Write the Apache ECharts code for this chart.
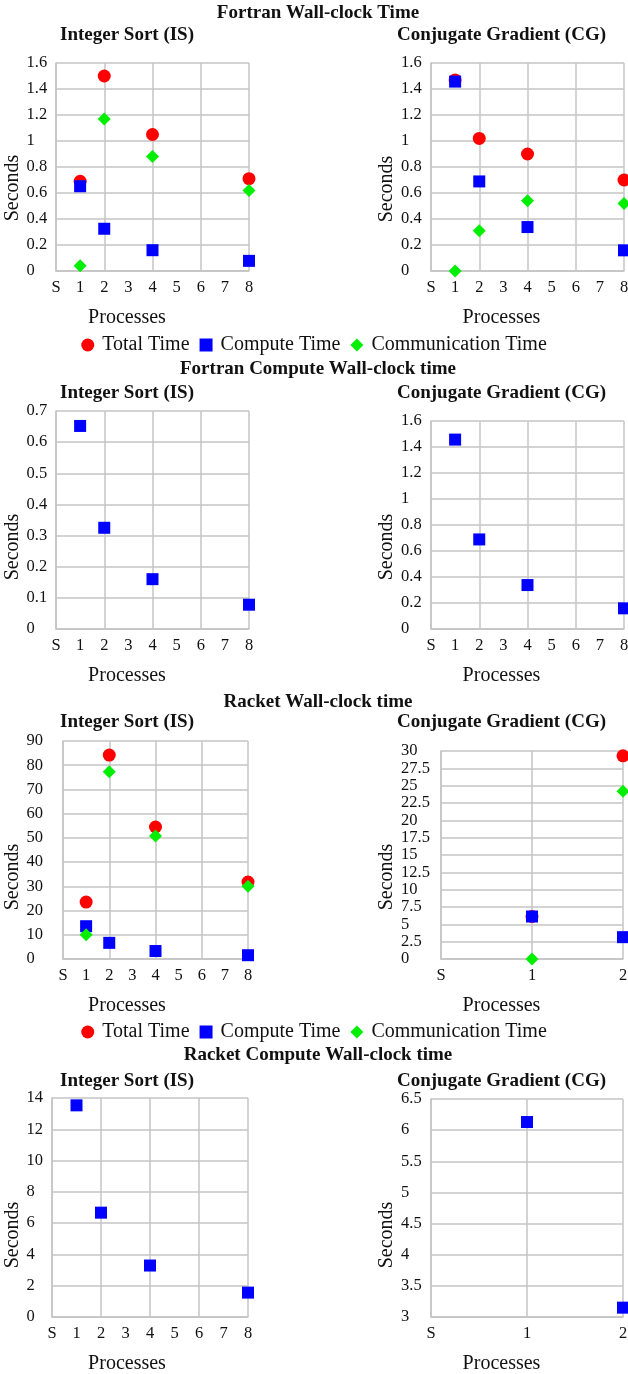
<!DOCTYPE html>
<html>
<head>
<meta charset="utf-8">
<title>Wall-clock time</title>
<script src="https://cdn.jsdelivr.net/npm/echarts@6/dist/echarts.min.js"></script>
<style>
  html, body { margin: 0; padding: 0; background: #fff; }
  #main { width: 628px; height: 1374px; }
</style>
</head>
<body>
<div id="main"></div>
<script>
// x categories, S = serial run
var procsFull = ['S', '1', '2', '3', '4', '5', '6', '7', '8'];
var procsShort = ['S', '1', '2'];
var runsFull = ['1', '2', '4', '8'];   // process counts that were measured
var runsShort = ['1', '2'];
var seriesNames = ['Total Time', 'Compute Time', 'Communication Time'];

// Fortran, seconds
var fortIsTotal = [0.69, 1.50, 1.05, 0.71];
var fortIsCompute = [0.652, 0.325, 0.160, 0.078];
var fortIsComm = [0.04, 1.17, 0.88, 0.62];
var fortCgTotal = [1.47, 1.02, 0.90, 0.70];
var fortCgCompute = [1.457, 0.689, 0.338, 0.159];
var fortCgComm = [0.00, 0.31, 0.54, 0.52];

// Racket, seconds
var rktIsTotal = [23.5, 84.2, 54.5, 31.8];
var rktIsCompute = [13.53, 6.67, 3.29, 1.56];
var rktIsComm = [10.0, 77.3, 50.8, 30.0];
var rktCgTotal = [6.13, 29.3];
var rktCgCompute = [6.13, 3.15];
var rktCgComm = [0.0, 24.2];

// y axis ticks: [min, max, step]
var ticksFortWall = [0, 1.6, 0.2];
var ticksFortIsComp = [0, 0.7, 0.1];
var ticksRktIsWall = [0, 90, 10];
var ticksRktCgWall = [0, 30, 2.5];
var ticksRktIsComp = [0, 14, 2];
var ticksRktCgComp = [3, 6.5, 0.5];

var FONT = 'Liberation Serif';
var TXT = '#111';
var GRID_COLOR = '#c4c4c4';
var COLORS = ['#ff0000', '#0000ff', '#00ee00'];
var SYMBOLS = ['circle', 'rect', 'diamond'];
var SIZES = [13, 12, 13];

var option = {
    animation: false,
    backgroundColor: '#fff',
    title: [],
    legend: [],
    grid: [],
    xAxis: [],
    yAxis: [],
    series: []
};

function addTitle(text, x, y) {
    option.title.push({
        text: text, left: x, top: y, padding: 0,
        textAlign: 'center', textVerticalAlign: 'middle',
        textStyle: {fontFamily: FONT, fontSize: 19, fontWeight: 'bold', color: TXT}
    });
}

function addLegend(y) {
    option.legend.push({
        data: seriesNames, left: 'center', top: y, selectedMode: false,
        itemWidth: 13, itemHeight: 13, itemGap: 10,
        textStyle: {fontFamily: FONT, fontSize: 20, color: TXT, padding: [0, 0, 0, 3]}
    });
}

/* one small chart: p = position + axes, lists = value arrays in series order */
function addPanel(p, lists) {
    var idx = option.grid.length;
    var right = p.left > 300;
    var procX = right ? 501.5 : 127;      // "Processes" and subtitle centre
    var labelX = right ? 401 : 26.5;      // y labels are left aligned here
    var nameX = right ? 387 : 14;         // "Seconds" centre
    var lineStyle = {color: GRID_COLOR, width: 1.5};

    option.grid.push({left: p.left, top: p.top, width: p.width, height: p.height, outerBoundsMode: 'none'});
    addTitle(p.title, procX, p.titleY);

    option.xAxis.push({
        type: 'category', gridIndex: idx, data: p.cats, boundaryGap: false,
        name: 'Processes', nameLocation: 'middle', nameGap: 37,
        nameTextStyle: {fontFamily: FONT, fontSize: 20, color: TXT,
            padding: [0, 2 * (p.left + p.width / 2 - procX), 0, 0]},
        axisLine: {lineStyle: lineStyle}, axisTick: {show: false},
        axisLabel: {interval: 0, margin: 8, fontFamily: FONT, fontSize: 16.5, color: TXT},
        splitLine: {show: true, lineStyle: lineStyle,
            interval: function (i) { return i % p.every === 0; }}
    });
    option.yAxis.push({
        type: 'value', gridIndex: idx, min: p.ticks[0], max: p.ticks[1], interval: p.ticks[2],
        name: 'Seconds', nameLocation: 'middle', nameGap: p.left - nameX - 13,
        nameTextStyle: {fontFamily: FONT, fontSize: 20, color: TXT,
            padding: [0, 2 * (p.secY - p.top - p.height / 2), 0, 0]},
        axisLine: {show: true, lineStyle: lineStyle}, axisTick: {show: false},
        axisLabel: {align: 'left', margin: p.left - labelX, fontFamily: FONT, fontSize: 16.5, color: TXT},
        splitLine: {show: true, lineStyle: lineStyle}
    });

    for (var k = 0; k < lists.length; k++) {
        var s = p.kinds[k];
        var vals = lists[k];
        option.series.push({
            type: 'scatter', name: seriesNames[s],
            xAxisIndex: idx, yAxisIndex: idx, clip: false,
            symbol: SYMBOLS[s], symbolSize: SIZES[s],
            itemStyle: {color: COLORS[s], opacity: 1},
            data: p.runs.map(function (r, i) { return [r, vals[i]]; })
        });
    }
}

// Fortran wall-clock
addTitle('Fortran Wall-clock Time', 318, 13);
addPanel({title: 'Integer Sort (IS)', titleY: 35, left: 56, top: 63, width: 193, height: 208, secY: 188,
    cats: procsFull, runs: runsFull, every: 2, ticks: ticksFortWall, kinds: [0, 1, 2]},
    [fortIsTotal, fortIsCompute, fortIsComm]);
addPanel({title: 'Conjugate Gradient (CG)', titleY: 35, left: 431, top: 63, width: 193, height: 208, secY: 189,
    cats: procsFull, runs: runsFull, every: 2, ticks: ticksFortWall, kinds: [0, 1, 2]},
    [fortCgTotal, fortCgCompute, fortCgComm]);
addLegend(330);

// Fortran compute only
addTitle('Fortran Compute Wall-clock time', 318, 369);
addPanel({title: 'Integer Sort (IS)', titleY: 393, left: 56, top: 411, width: 193, height: 218, secY: 547,
    cats: procsFull, runs: runsFull, every: 2, ticks: ticksFortIsComp, kinds: [1]},
    [fortIsCompute]);
addPanel({title: 'Conjugate Gradient (CG)', titleY: 393, left: 431, top: 421, width: 193, height: 208, secY: 547,
    cats: procsFull, runs: runsFull, every: 2, ticks: ticksFortWall, kinds: [1]},
    [fortCgCompute]);

// Racket wall-clock
addTitle('Racket Wall-clock time', 318, 702);
addPanel({title: 'Integer Sort (IS)', titleY: 722, left: 63, top: 741, width: 185, height: 218, secY: 877,
    cats: procsFull, runs: runsFull, every: 2, ticks: ticksRktIsWall, kinds: [0, 1, 2]},
    [rktIsTotal, rktIsCompute, rktIsComm]);
addPanel({title: 'Conjugate Gradient (CG)', titleY: 722, left: 441, top: 751, width: 182, height: 208, secY: 877,
    cats: procsShort, runs: runsShort, every: 1, ticks: ticksRktCgWall, kinds: [0, 1, 2]},
    [rktCgTotal, rktCgCompute, rktCgComm]);
addLegend(1017);

// Racket compute only
addTitle('Racket Compute Wall-clock time', 318, 1055);
addPanel({title: 'Integer Sort (IS)', titleY: 1081, left: 52, top: 1098, width: 196, height: 219, secY: 1235,
    cats: procsFull, runs: runsFull, every: 2, ticks: ticksRktIsComp, kinds: [1]},
    [rktIsCompute]);
addPanel({title: 'Conjugate Gradient (CG)', titleY: 1081, left: 431, top: 1099, width: 192, height: 218, secY: 1235,
    cats: procsShort, runs: runsShort, every: 1, ticks: ticksRktCgComp, kinds: [1]},
    [rktCgCompute]);

var myChart = echarts.init(document.getElementById('main'));
myChart.setOption(option);
window.addEventListener('resize', function () {
    myChart.resize();
});
</script>
</body>
</html>
